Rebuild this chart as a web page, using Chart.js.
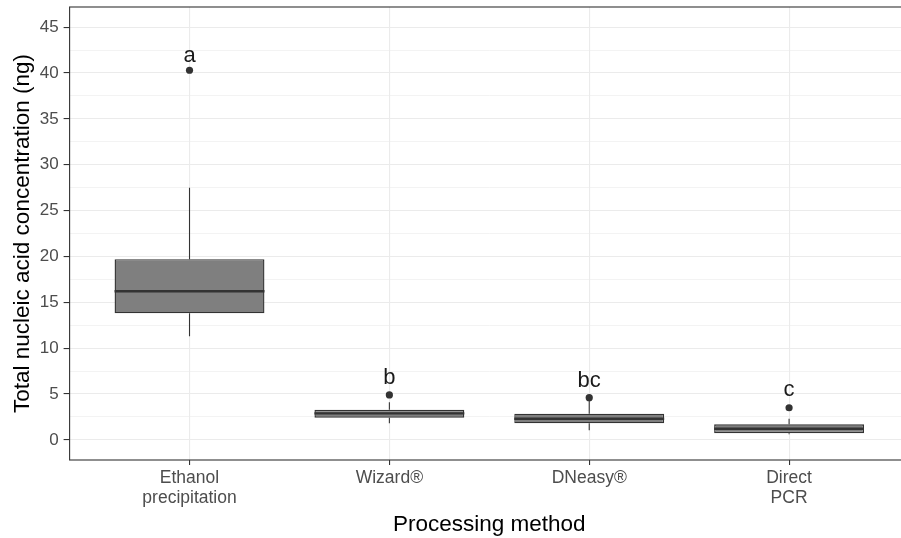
<!DOCTYPE html>
<html>
<head>
<meta charset="utf-8">
<script src="https://cdn.jsdelivr.net/npm/chart.js@4.4.1/dist/chart.umd.min.js"></script>
<style>
  html, body { margin: 0; padding: 0; overflow: hidden; background: #ffffff; }
  #wrap { position: absolute; left: 0; top: 0; width: 913px; height: 538px; }
</style>
</head>
<body>
<div id="wrap"><canvas id="c"></canvas></div>
<script>
// ---- data ----
const categories   = ["Ethanol\nprecipitation", "Wizard®", "DNeasy®", "Direct\nPCR"];
const whiskerLow   = [11.3, 1.8, 1.05, 0.6];
const q1           = [13.8, 2.42, 1.8, 0.72];
const median       = [16.2, 2.88, 2.3, 1.2];
const q3           = [19.7, 3.28, 2.85, 1.7];
const whiskerHigh  = [27.5, 4.1, 4.3, 2.3];
const outliers     = [[40.3], [4.9], [4.6], [3.5]];
const sigLetters   = ["a", "b", "bc", "c"];
const sigLetterY   = [41.9, 6.7, 6.4, 5.4];
const yTickLabels  = [0, 5, 10, 15, 20, 25, 30, 35, 40, 45];
const xTitle = "Processing method";
const yTitle = "Total nucleic acid concentration (ng)";

// ---- datasets built from the arrays ----
const boxData = categories.map((c, i) => ({ x: i, y: [q1[i], q3[i]] }));
const whiskerData = [];
categories.forEach((c, i) => {
  whiskerData.push({ x: i, y: whiskerLow[i] }, { x: i, y: q1[i] }, { x: i, y: null });
  whiskerData.push({ x: i, y: q3[i] }, { x: i, y: whiskerHigh[i] }, { x: i, y: null });
});
const halfBox = 0.375;
const medianData = [];
categories.forEach((c, i) => {
  medianData.push({ x: i - halfBox, y: median[i] }, { x: i + halfBox, y: median[i] }, { x: i, y: null });
});
const outlierData = [];
outliers.forEach((arr, i) => arr.forEach(v => outlierData.push({ x: i, y: v })));

const yAllTicks = [];
yTickLabels.forEach((v, k) => {
  yAllTicks.push(v);
  if (k < yTickLabels.length - 1) yAllTicks.push((v + yTickLabels[k + 1]) / 2);
});
const isMajor = v => yTickLabels.indexOf(v) !== -1;

const FONT = "'Liberation Sans', Arial, sans-serif";

const panelBorder = {
  id: 'panelBorder',
  afterDraw(chart) {
    const { ctx, chartArea: a } = chart;
    ctx.save();
    ctx.strokeStyle = '#333333';
    ctx.lineWidth = 1.1;
    ctx.strokeRect(a.left, a.top, a.right - a.left, a.bottom - a.top);
    ctx.restore();
  }
};

const letterLabels = {
  id: 'letterLabels',
  afterDatasetsDraw(chart) {
    const { ctx, scales } = chart;
    ctx.save();
    ctx.fillStyle = '#1a1a1a';
    ctx.font = "22px " + FONT;
    ctx.textAlign = 'center';
    ctx.textBaseline = 'middle';
    sigLetters.forEach((t, i) => {
      ctx.fillText(t, scales.x.getPixelForValue(i), scales.y.getPixelForValue(sigLetterY[i]));
    });
    ctx.restore();
  }
};

new Chart(document.getElementById('c'), {
  type: 'bar',
  data: {
    datasets: [
      {
        type: 'bar', label: 'box', data: boxData, order: 3,
        backgroundColor: '#7f7f7f', borderColor: '#333333', borderWidth: 1.4,
        borderSkipped: false, barPercentage: 0.75, categoryPercentage: 1
      },
      {
        type: 'line', label: 'whiskers', data: whiskerData, order: 2,
        borderColor: '#333333', borderWidth: 1.1, pointRadius: 0, spanGaps: false, fill: false
      },
      {
        type: 'line', label: 'median', data: medianData, order: 1,
        borderColor: '#333333', borderWidth: 2.4, pointRadius: 0, spanGaps: false, fill: false
      },
      {
        type: 'scatter', label: 'outliers', data: outlierData, order: 0,
        backgroundColor: '#333333', borderWidth: 0, pointRadius: 3.6, showLine: false
      }
    ]
  },
  options: {
    responsive: true,
    maintainAspectRatio: false,
    animation: false,
    devicePixelRatio: 1,
    layout: { padding: { left: 0, right: 0.6, top: 7, bottom: 0 } },
    plugins: { legend: { display: false }, tooltip: { enabled: false } },
    scales: {
      x: {
        type: 'linear', min: -0.6, max: 3.6, offset: false,
        afterBuildTicks: s => { s.ticks = categories.map((c, i) => ({ value: i })); },
        afterFit: s => { s.height = 78; s.paddingLeft = 0; s.paddingRight = 0; },
        grid: { color: '#ebebeb', lineWidth: 1.1, tickLength: 5, tickColor: '#333333', tickWidth: 1.1, offset: false, drawOnChartArea: true },
        border: { display: false },
        ticks: {
          autoSkip: false, maxRotation: 0, padding: 3, color: '#4d4d4d',
          font: { family: FONT, size: 17.5, lineHeight: 1.15 },
          callback: v => { const c = categories[Math.round(v)]; return c ? c.split('\n') : ''; }
        },
        title: { display: true, text: xTitle, color: '#000000', font: { family: FONT, size: 22.5, lineHeight: 1.15 }, padding: { top: 0, bottom: 0 } }
      },
      y: {
        type: 'linear', min: -2.2, max: 47.2,
        afterBuildTicks: s => { s.ticks = yAllTicks.map(v => ({ value: v })); },
        afterFit: s => { s.width = 69.6; s.paddingTop = 0; s.paddingBottom = 0; },
        grid: {
          color: '#ebebeb',
          lineWidth: ctx => (ctx.tick && isMajor(ctx.tick.value)) ? 1.1 : 0.6,
          tickLength: 6,
          tickColor: ctx => (ctx.tick && isMajor(ctx.tick.value)) ? '#333333' : 'rgba(0,0,0,0)',
          tickWidth: 1.1
        },
        border: { display: false },
        ticks: {
          autoSkip: false, padding: 5, color: '#4d4d4d',
          font: { family: FONT, size: 17 },
          callback: v => isMajor(v) ? String(v) : ''
        },
        title: { display: true, text: yTitle, color: '#000000', font: { family: FONT, size: 22.5, lineHeight: 1.15 }, padding: { top: 10, bottom: 0 } }
      }
    }
  },
  plugins: [panelBorder, letterLabels]
});
</script>
</body>
</html>
